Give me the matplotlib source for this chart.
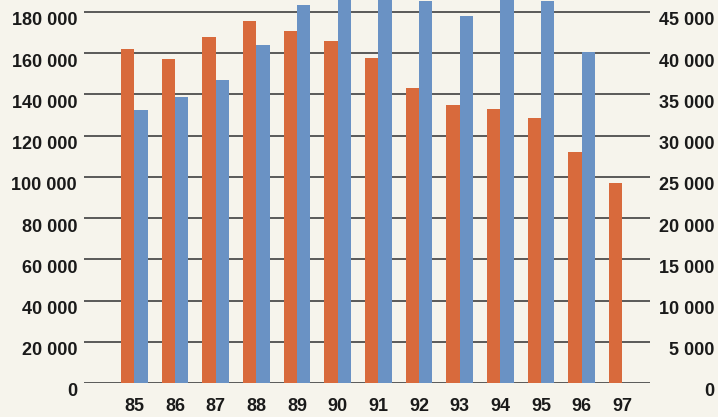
import matplotlib.pyplot as plt
import numpy as np
from matplotlib.transforms import ScaledTranslation

plt.rcParams['font.family'] = ['Liberation Sans', 'DejaVu Sans']

years = ["85", "86", "87", "88", "89", "90", "91", "92", "93", "94", "95", "96", "97"]
# orange series, left axis
orange_vals = [161900, 157400, 167700, 175800, 170600, 166100, 157700,
               143000, 134700, 132800, 128600, 112200, 97000]
# blue series, right axis (no value for 97)
blue_vals = [33100, 34700, 36800, 41000, 45900, 47500, 47500,
             46300, 44550, 47500, 46300, 40100, 0]

left_ticks = list(range(0, 180001, 20000))
right_ticks = list(range(0, 45001, 5000))

BG = "#f6f4ec"
ORANGE = "#d86a3c"
BLUE = "#6a92c4"
GRID = "#4d4d4d"


def fmt(v):
    return f"{v:,}".replace(",", " ")


fig = plt.figure(figsize=(7.18, 4.17), dpi=100, facecolor=BG)
ax = fig.add_axes([84 / 718, (417 - 383) / 417, (650 - 84) / 718, 383 / 417])
ax.set_facecolor(BG)
ax2 = ax.twinx()

x = np.arange(len(years))
w = 0.33
ax.bar(x - w / 2, orange_vals, width=w, color=ORANGE, zorder=3)
ax2.bar(x + w / 2, blue_vals, width=w, color=BLUE, zorder=3)

ytop = 185800
ax.set_ylim(0, ytop)
ax2.set_ylim(0, ytop / 4)
ax.set_xlim(-1.24, 12.68)

for v in left_ticks:
    ax.axhline(v, color=GRID, lw=1.3, zorder=1)

for a in (ax, ax2):
    for s in a.spines.values():
        s.set_visible(False)

ax.set_xticks(x)
ax.set_xticklabels(years)
ax.tick_params(axis='x', length=0, pad=11, labelsize=13)

ax.set_yticks(left_ticks)
ax.set_yticklabels([fmt(v) for v in left_ticks])
ax.tick_params(axis='y', length=0, pad=5, labelsize=13)

ax2.set_yticks(right_ticks)
ax2.set_yticklabels([fmt(v) for v in right_ticks])
# right-hand labels are right-aligned near the figure edge
ax2.tick_params(axis='y', length=0, pad=46.5, labelsize=13)

for lab in ax.get_xticklabels() + ax.get_yticklabels() + ax2.get_yticklabels():
    lab.set_fontweight('bold')
    lab.set_color("#1a1a1a")

shift = ScaledTranslation(0, -7 / 100, fig.dpi_scale_trans)
for lab in ax.get_yticklabels():
    lab.set_transform(lab.get_transform() + shift)
for lab in ax2.get_yticklabels():
    lab.set_horizontalalignment('right')
    lab.set_transform(lab.get_transform() + shift)

fig.savefig("out.png", dpi=100, facecolor=BG)
